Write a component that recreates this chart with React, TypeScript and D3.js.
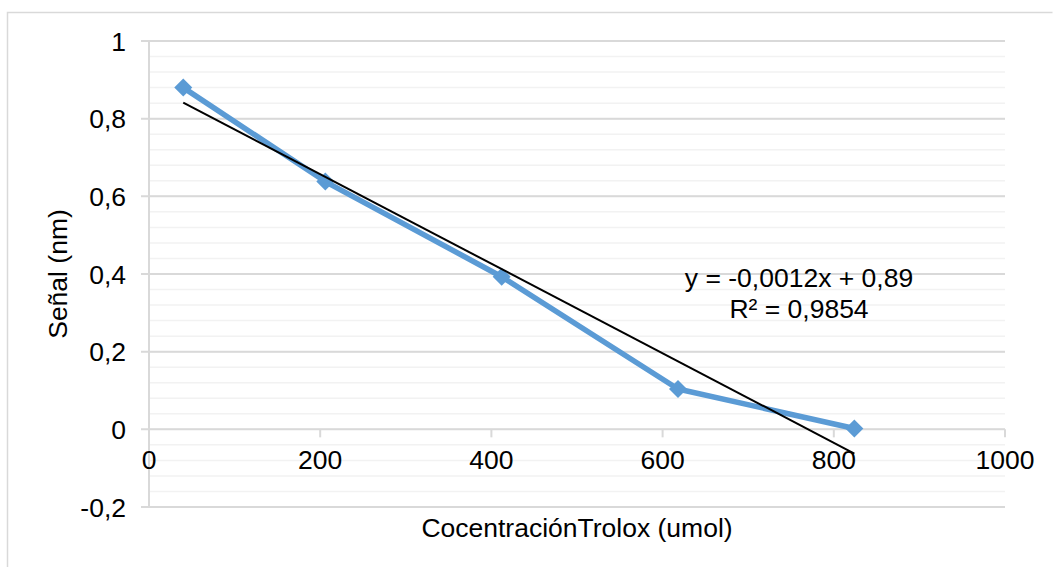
import { useEffect, useRef } from "react";
import * as d3 from "d3";

// Concentration (umol) and signal (nm)
const concentracion = [40, 206, 412, 618, 824];
const senal = [0.88, 0.638, 0.393, 0.104, 0.002];

const xTicks = [0, 200, 400, 600, 800, 1000];
const yTicks = [-0.2, 0, 0.2, 0.4, 0.6, 0.8, 1];

const ecuacion = "y = -0,0012x + 0,89";
const r2 = "R² = 0,9854";
const xTitle = "CocentraciónTrolox (umol)";
const yTitle = "Señal (nm)";

export default function App() {
  const ref = useRef<SVGSVGElement>(null);

  useEffect(() => {
    const svg = d3.select(ref.current);
    svg.selectAll("*").remove();

    const width = 1053;
    const height = 567;
    const margin = { left: 149, right: 48, top: 41, bottom: 60 };
    const font = "'Liberation Sans', Arial, sans-serif";
    const fs = 26.5;

    svg.attr("width", width).attr("height", height);

    const locale = d3.formatLocale({
      decimal: ",",
      thousands: ".",
      grouping: [3],
      currency: ["", ""],
      minus: "-",
    });
    const fmtY = locale.format("~g");
    const fmtX = locale.format("d");

    const x = d3.scaleLinear().domain([0, 1000]).range([margin.left, width - margin.right]);
    const y = d3
      .scaleLinear()
      .domain([-0.2, 1])
      .range([height - margin.bottom, margin.top]);

    // chart area border
    svg
      .append("path")
      .attr("d", `M7.5,${height + 5}V12.5H1052.5`)
      .attr("fill", "none")
      .attr("stroke", "#D9D9D9")
      .attr("stroke-width", 1.5);

    // minor gridlines
    const minor = d3.range(0, 31).map((i) => -0.2 + i * 0.04);
    svg
      .append("g")
      .selectAll("line")
      .data(minor)
      .join("line")
      .attr("x1", x(0))
      .attr("x2", x(1000))
      .attr("y1", (d) => y(d))
      .attr("y2", (d) => y(d))
      .attr("stroke", "#F2F2F2")
      .attr("stroke-width", 1.5);

    // major gridlines + y ticks
    const gy = svg.append("g");
    gy.selectAll("line")
      .data(yTicks)
      .join("line")
      .attr("x1", x(0) - 8)
      .attr("x2", x(1000))
      .attr("y1", (d) => y(d))
      .attr("y2", (d) => y(d))
      .attr("stroke", "#D9D9D9")
      .attr("stroke-width", 2);

    gy.selectAll("text")
      .data(yTicks)
      .join("text")
      .attr("x", 126)
      .attr("y", (d) => y(d) + 9.5)
      .attr("text-anchor", "end")
      .attr("font-family", font)
      .attr("font-size", fs)
      .attr("fill", "#000")
      .text((d) => fmtY(d));

    // y axis line
    svg
      .append("line")
      .attr("x1", x(0))
      .attr("x2", x(0))
      .attr("y1", y(1))
      .attr("y2", y(-0.2))
      .attr("stroke", "#D9D9D9")
      .attr("stroke-width", 2);

    // x axis at y = 0 with ticks
    const gx = svg.append("g");
    gx.selectAll("line")
      .data(xTicks)
      .join("line")
      .attr("x1", (d) => x(d))
      .attr("x2", (d) => x(d))
      .attr("y1", y(0))
      .attr("y2", y(0) + 8)
      .attr("stroke", "#D9D9D9")
      .attr("stroke-width", 2);

    gx.selectAll("text")
      .data(xTicks)
      .join("text")
      .attr("x", (d) => x(d))
      .attr("y", y(0) + 40)
      .attr("text-anchor", "middle")
      .attr("font-family", font)
      .attr("font-size", fs)
      .attr("fill", "#000")
      .text((d) => fmtX(d));

    // series
    const pts = concentracion.map((c, i) => [c, senal[i]] as [number, number]);
    const line = d3
      .line<[number, number]>()
      .x((d) => x(d[0]))
      .y((d) => y(d[1]));

    svg
      .append("path")
      .datum(pts)
      .attr("d", line)
      .attr("fill", "none")
      .attr("stroke", "#5B9BD5")
      .attr("stroke-width", 5.5)
      .attr("stroke-linejoin", "round");

    const r = 9;
    svg
      .append("g")
      .selectAll("path")
      .data(pts)
      .join("path")
      .attr("d", (d) => {
        const cx = x(d[0]);
        const cy = y(d[1]);
        return `M${cx},${cy - r}L${cx + r},${cy}L${cx},${cy + r}L${cx - r},${cy}Z`;
      })
      .attr("fill", "#5B9BD5");

    // linear trendline (least squares)
    const mx = d3.mean(concentracion)!;
    const my = d3.mean(senal)!;
    const sxy = d3.sum(concentracion, (c, i) => (c - mx) * (senal[i] - my));
    const sxx = d3.sum(concentracion, (c) => (c - mx) ** 2);
    const slope = sxy / sxx;
    const icpt = my - slope * mx;
    const [x0, x1] = d3.extent(concentracion) as [number, number];
    svg
      .append("line")
      .attr("x1", x(x0))
      .attr("y1", y(slope * x0 + icpt))
      .attr("x2", x(x1))
      .attr("y2", y(slope * x1 + icpt))
      .attr("stroke", "#000")
      .attr("stroke-width", 2);

    // trendline label
    svg
      .append("text")
      .attr("x", 799)
      .attr("y", 287)
      .attr("text-anchor", "middle")
      .attr("font-family", font)
      .attr("font-size", fs)
      .text(ecuacion);
    svg
      .append("text")
      .attr("x", 799)
      .attr("y", 318)
      .attr("text-anchor", "middle")
      .attr("font-family", font)
      .attr("font-size", fs)
      .text(r2);

    // axis titles
    svg
      .append("text")
      .attr("x", 577)
      .attr("y", 537)
      .attr("text-anchor", "middle")
      .attr("font-family", font)
      .attr("font-size", fs)
      .text(xTitle);

    svg
      .append("text")
      .attr("transform", `translate(67,274) rotate(-90)`)
      .attr("text-anchor", "middle")
      .attr("font-family", font)
      .attr("font-size", fs)
      .text(yTitle);
  }, []);

  return (
    <svg
      ref={ref}
      style={{ position: "absolute", left: 0, top: 0, background: "#fff" }}
    />
  );
}
